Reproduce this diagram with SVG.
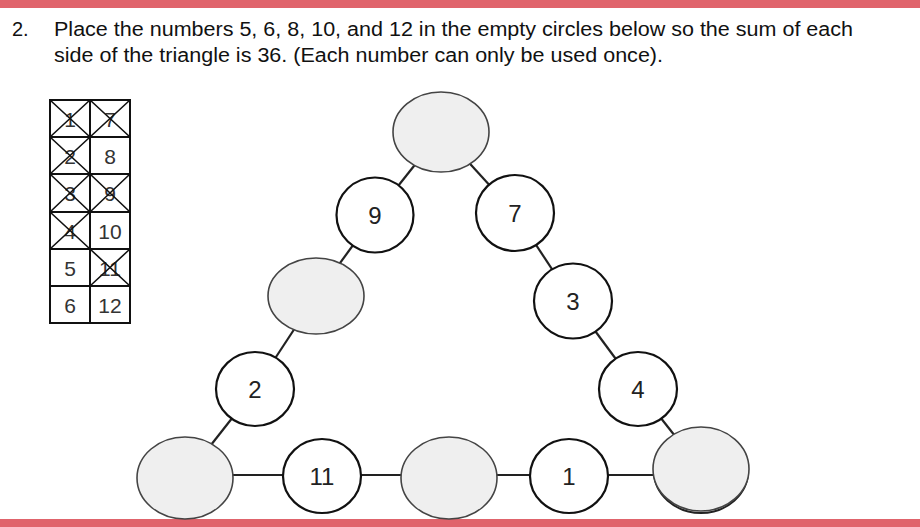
<svg xmlns="http://www.w3.org/2000/svg" width="920" height="527" viewBox="0 0 920 527">
<style>
.t{font-family:"Liberation Sans",Arial,sans-serif;font-size:20px;fill:#111}
.n{font-family:"Liberation Sans",Arial,sans-serif;font-size:24px;fill:#222;text-anchor:middle;dominant-baseline:central}
.c{fill:#fff;stroke:#111;stroke-width:2.2}
.g{fill:#efefef;stroke:#444;stroke-width:1.6}
.cell{fill:#fff;stroke:#111;stroke-width:2}
.tn{font-family:"Liberation Sans",Arial,sans-serif;font-size:21px;fill:#333;text-anchor:middle;dominant-baseline:central}
.x{stroke:#111;stroke-width:1.6}
.ln{stroke:#222;stroke-width:2.2;fill:none}
</style>
<rect x="0" y="0" width="920" height="527" fill="#fff"/>
<rect x="0" y="0" width="920" height="8" fill="#e0646c"/>
<rect x="0" y="519" width="920" height="8" fill="#e0646c"/>
<text class="t" x="12" y="36">2.</text>
<text class="t" x="54" y="36" textLength="799" lengthAdjust="spacingAndGlyphs">Place the numbers 5, 6, 8, 10, and 12 in the empty circles below so the sum of each</text>
<text class="t" x="54" y="62" textLength="609" lengthAdjust="spacingAndGlyphs">side of the triangle is 36. (Each number can only be used once).</text>
<g id="table">
<rect class="cell" x="50" y="100" width="40" height="37"/><text class="tn" x="70" y="119">1</text><path class="x" d="M50 100L90 137M90 100L50 137"/>
<rect class="cell" x="90" y="100" width="40" height="37"/><text class="tn" x="110" y="119">7</text><path class="x" d="M90 100L130 137M130 100L90 137"/>
<rect class="cell" x="50" y="137" width="40" height="37"/><text class="tn" x="70" y="156">2</text><path class="x" d="M50 137L90 174M90 137L50 174"/>
<rect class="cell" x="90" y="137" width="40" height="37"/><text class="tn" x="110" y="156">8</text>
<rect class="cell" x="50" y="174" width="40" height="38"/><text class="tn" x="70" y="193">3</text><path class="x" d="M50 174L90 212M90 174L50 212"/>
<rect class="cell" x="90" y="174" width="40" height="38"/><text class="tn" x="110" y="193">9</text><path class="x" d="M90 174L130 212M130 174L90 212"/>
<rect class="cell" x="50" y="212" width="40" height="37"/><text class="tn" x="70" y="231">4</text><path class="x" d="M50 212L90 249M90 212L50 249"/>
<rect class="cell" x="90" y="212" width="40" height="37"/><text class="tn" x="110" y="231">10</text>
<rect class="cell" x="50" y="249" width="40" height="37"/><text class="tn" x="70" y="268">5</text>
<rect class="cell" x="90" y="249" width="40" height="37"/><text class="tn" x="110" y="268">11</text><path class="x" d="M90 249L130 286M130 249L90 286"/>
<rect class="cell" x="50" y="286" width="40" height="37"/><text class="tn" x="70" y="305">6</text>
<rect class="cell" x="90" y="286" width="40" height="37"/><text class="tn" x="110" y="305">12</text>
</g>
<g id="connectors">
<line class="ln" x1="441" y1="132" x2="375" y2="215"/>
<line class="ln" x1="375" y1="215" x2="316" y2="296"/>
<line class="ln" x1="316" y1="296" x2="255" y2="389"/>
<line class="ln" x1="255" y1="389" x2="185" y2="478"/>
<line class="ln" x1="441" y1="132" x2="515" y2="213"/>
<line class="ln" x1="515" y1="213" x2="573" y2="301"/>
<line class="ln" x1="573" y1="301" x2="638" y2="389"/>
<line class="ln" x1="638" y1="389" x2="701" y2="469"/>
<line class="ln" x1="185" y1="475" x2="701" y2="475"/>
</g>
<g id="top"><ellipse class="g" cx="441" cy="132" rx="48" ry="40"/></g>
<g id="n9"><ellipse class="c" cx="375" cy="215" rx="38.5" ry="37.5"/><text class="n" x="375" y="215">9</text></g>
<g id="n7"><ellipse class="c" cx="515" cy="213" rx="39" ry="38"/><text class="n" x="515" y="213">7</text></g>
<g id="leftmid"><ellipse class="g" cx="316" cy="296" rx="48" ry="38"/></g>
<g id="n3"><ellipse class="c" cx="573" cy="301" rx="39" ry="37.5"/><text class="n" x="573" y="301">3</text></g>
<g id="n2"><ellipse class="c" cx="255" cy="389" rx="39" ry="37"/><text class="n" x="255" y="389">2</text></g>
<g id="n4"><ellipse class="c" cx="638" cy="389" rx="39" ry="37"/><text class="n" x="638" y="389">4</text></g>
<g id="bl"><ellipse class="g" cx="185" cy="478" rx="48" ry="41"/></g>
<g id="n11"><ellipse class="c" cx="322" cy="476" rx="39" ry="37"/><text class="n" x="322" y="476">11</text></g>
<g id="bm"><ellipse class="g" cx="449" cy="478" rx="48" ry="41"/></g>
<g id="n1"><ellipse class="c" cx="569" cy="476" rx="39" ry="37"/><text class="n" x="569" y="476">1</text></g>
<g id="br"><ellipse cx="701" cy="471" rx="47" ry="42" fill="none" stroke="#222" stroke-width="2"/><ellipse class="g" cx="701" cy="469" rx="48" ry="42"/></g>
</svg>
